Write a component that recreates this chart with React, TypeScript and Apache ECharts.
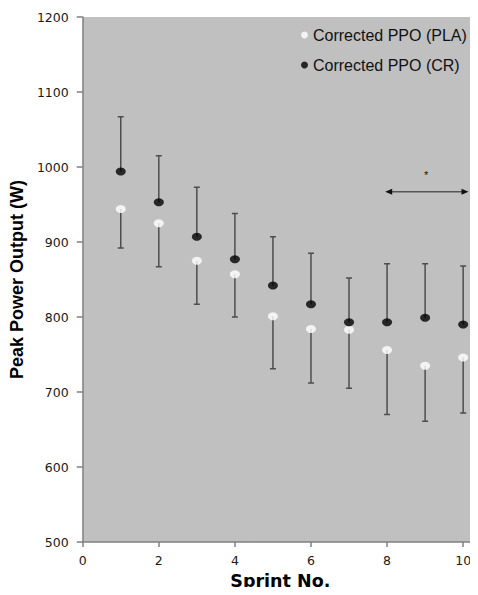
import React, { useEffect, useRef } from "react";
import * as echarts from "echarts";

const sprints = [1, 2, 3, 4, 5, 6, 7, 8, 9, 10];
const crMean = [994, 953, 907, 877, 842, 817, 793, 793, 799, 790];
const crUpper = [1067, 1015, 973, 938, 907, 885, 852, 871, 871, 868];
const plaMean = [944, 925, 875, 857, 801, 784, 783, 756, 735, 746];
const plaLower = [892, 867, 817, 800, 731, 712, 705, 670, 661, 672];
const xTicks = [0, 2, 4, 6, 8, 10];
const arrowX = [7.95, 10.14];
const arrowY = 967;
const starPos = [9.03, 990];

const barColor = "#4d4d4d";

function errorBarSeries(name: string, means: number[], ends: number[]) {
  return {
    type: "custom",
    name,
    z: 2,
    silent: true,
    data: sprints.map((s, i) => [s, means[i], ends[i]]),
    encode: { x: 0, y: [1, 2] },
    renderItem: (params: any, api: any) => {
      const x = api.value(0);
      const p1 = api.coord([x, api.value(1)]);
      const p2 = api.coord([x, api.value(2)]);
      const style = { stroke: barColor, lineWidth: 1.5 };
      return {
        type: "group",
        children: [
          { type: "line", shape: { x1: p1[0], y1: p1[1], x2: p2[0], y2: p2[1] }, style },
          { type: "line", shape: { x1: p2[0] - 3, y1: p2[1], x2: p2[0] + 3, y2: p2[1] }, style },
        ],
      };
    },
  };
}

export default function App() {
  const ref = useRef<HTMLDivElement>(null);
  useEffect(() => {
    if (!ref.current) return;
    const chart = echarts.init(ref.current, null, { renderer: "svg" });
    chart.setOption({
      animation: false,
      backgroundColor: "#ffffff",
      grid: {
        left: 81,
        right: 0,
        top: 17,
        bottom: 48,
        show: true,
        backgroundColor: "#c0c0c0",
        borderWidth: 0,
      },
      legend: {
        orient: "vertical",
        left: 301,
        top: 27,
        padding: 0,
        itemWidth: 7,
        itemHeight: 7,
        itemGap: 14,
        data: [
          { name: "Corrected PPO (PLA)", icon: "circle" },
          { name: "Corrected PPO (CR)", icon: "circle" },
        ],
        textStyle: { fontFamily: "Liberation Sans", fontSize: 16, color: "#111" },
      },
      xAxis: {
        type: "value",
        min: 0,
        max: 10.39,
        name: "Sprint No.",
        nameLocation: "middle",
        nameGap: 30,
        nameTextStyle: { fontFamily: "DejaVu Sans", fontWeight: "bold", fontSize: 17.5, color: "#000" },
        splitLine: { show: false },
        axisLine: { show: true, onZero: false, lineStyle: { color: "#808080", width: 1.5 } },
        axisTick: { show: true, customValues: xTicks, length: 5, lineStyle: { color: "#808080", width: 1.5 } },
        axisLabel: {
          customValues: xTicks,
          margin: 12,
          fontFamily: "DejaVu Sans",
          fontSize: 12.5,
          color: "#1a1a1a",
          formatter: (v: number) => String(v),
        },
      },
      yAxis: {
        type: "value",
        min: 500,
        max: 1200,
        interval: 100,
        name: "Peak Power Output (W)",
        nameLocation: "middle",
        nameGap: 50,
        nameTextStyle: { fontFamily: "Liberation Sans", fontWeight: "bold", fontSize: 18, color: "#000" },
        splitLine: { show: false },
        axisLine: { show: true, onZero: false, lineStyle: { color: "#808080", width: 1.5 } },
        axisTick: { show: true, length: 6, lineStyle: { color: "#808080", width: 1.5 } },
        axisLabel: {
          margin: 14,
          fontFamily: "DejaVu Sans",
          fontSize: 12.5,
          color: "#1a1a1a",
          formatter: (v: number) => String(v),
        },
      },
      series: [
        errorBarSeries("crErr", crMean, crUpper),
        errorBarSeries("plaErr", plaMean, plaLower),
        {
          type: "scatter",
          name: "Corrected PPO (PLA)",
          z: 3,
          symbol: "circle",
          symbolSize: [10, 8],
          itemStyle: { color: "#ffffff" },
          data: sprints.map((s, i) => [s, plaMean[i]]),
        },
        {
          type: "scatter",
          name: "Corrected PPO (CR)",
          z: 3,
          symbol: "circle",
          symbolSize: [10, 8],
          itemStyle: { color: "#000000" },
          data: sprints.map((s, i) => [s, crMean[i]]),
        },
        {
          type: "custom",
          name: "arrow",
          silent: true,
          z: 2,
          data: [[arrowX[0], arrowX[1], arrowY, starPos[0], starPos[1]]],
          encode: { x: [0, 1], y: 2 },
          renderItem: (params: any, api: any) => {
            const a = api.coord([api.value(0), api.value(2)]);
            const b = api.coord([api.value(1), api.value(2)]);
            const s = api.coord([api.value(3), api.value(4)]);
            return {
              type: "group",
              children: [
                {
                  type: "line",
                  shape: { x1: a[0] + 4, y1: a[1], x2: b[0] - 4, y2: b[1] },
                  style: { stroke: "#555", lineWidth: 1.5 },
                },
                {
                  type: "polygon",
                  shape: { points: [[a[0], a[1]], [a[0] + 7, a[1] - 3], [a[0] + 7, a[1] + 3]] },
                  style: { fill: "#111" },
                },
                {
                  type: "polygon",
                  shape: { points: [[b[0], b[1]], [b[0] - 7, b[1] - 3], [b[0] - 7, b[1] + 3]] },
                  style: { fill: "#111" },
                },
                {
                  type: "text",
                  x: s[0],
                  y: s[1],
                  style: {
                    text: "*",
                    fontFamily: "Liberation Sans",
                    fontSize: 11,
                    fill: "#111",
                    align: "center",
                    verticalAlign: "middle",
                  },
                },
              ],
            };
          },
        },
      ],
    });
    return () => chart.dispose();
  }, []);
  return <div ref={ref} style={{ width: 478, height: 595, margin: -8 }} />;
}
